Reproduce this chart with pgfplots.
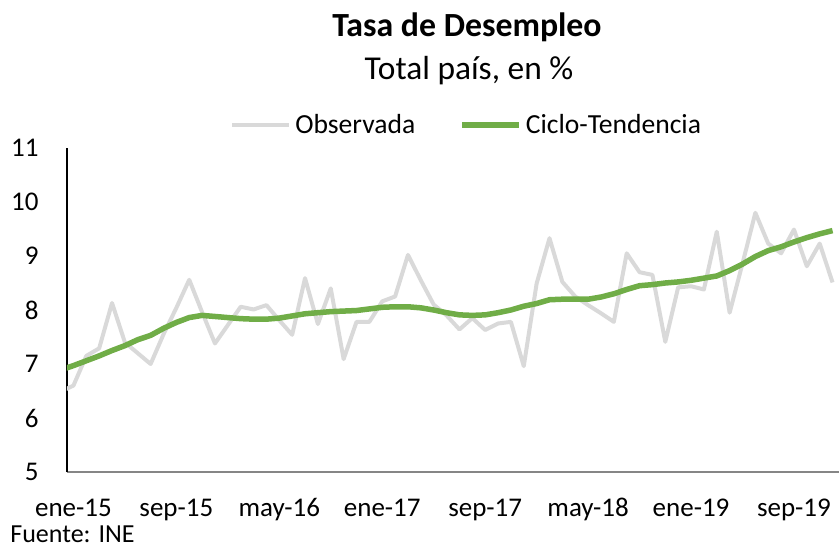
\documentclass[border=0pt]{standalone}
\usepackage{fontspec}
\setmainfont{Carlito}
\usepackage{pgfplots}
\pgfplotsset{compat=1.18}
\definecolor{obsgray}{HTML}{D9D9D9}
\definecolor{tendgreen}{HTML}{70AD47}
\definecolor{axgray}{HTML}{868686}
\begin{document}
\begin{tikzpicture}
\useasboundingbox (-33.5bp,-38bp) rectangle (386bp,236bp);
\begin{axis}[
  scale only axis, width=386bp, height=162bp,
  xmin=-0.5, xmax=59.5, ymin=5, ymax=11,
  ytick={5,...,11},
  xtick={0,8,...,56},
  xticklabels={ene-15,sep-15,may-16,ene-17,sep-17,may-18,ene-19,sep-19},
  axis x line*=bottom, axis y line*=left,
  x axis line style={axgray, line width=0.75bp, -},
  y axis line style={black, line width=0.75bp, -},
  major tick length=0pt,
  tick style={draw=none},
  /pgf/number format/assume math mode=true,
  ticklabel style={font=\fontsize{13.5bp}{16bp}\selectfont, inner sep=0pt},
  yticklabel style={anchor=east, xshift=-14bp},
  xticklabel style={anchor=base, yshift=-22bp},
  clip=true,
  legend style={at={(0.519,1.071)}, anchor=center, draw=none, fill=none, legend columns=2,
    font=\fontsize{13.8bp}{16bp}\selectfont,
    /tikz/every even column/.append style={column sep=20bp}},
  legend image code/.code={\draw[#1] (0bp,0bp) -- (28.5bp,0bp);},
]
\addplot[obsgray, line width=2bp, line join=round] coordinates {
(-1,6.49) (0,6.60) (1,7.15) (2,7.29) (3,8.13) (4,7.40) (5,7.20) (6,7.00) (7,7.55) (8,8.04) (9,8.56)
(10,7.96) (11,7.38) (12,7.72) (13,8.06) (14,8.01) (15,8.09) (16,7.81) (17,7.54) (18,8.59) (19,7.74)
(20,8.40) (21,7.09) (22,7.78) (23,7.78) (24,8.16) (25,8.25) (26,9.02) (27,8.55) (28,8.10) (29,7.90)
(30,7.64) (31,7.85) (32,7.63) (33,7.75) (34,7.78) (35,6.96) (36,8.49) (37,9.33) (38,8.52) (39,8.25)
(40,8.09) (41,7.94) (42,7.78) (43,9.05) (44,8.70) (45,8.65) (46,7.41) (47,8.42) (48,8.44) (49,8.38)
(50,9.45) (51,7.95) (52,8.86) (53,9.80) (54,9.23) (55,9.05) (56,9.49) (57,8.81) (58,9.23) (59,8.51)
};
\addlegendentry{Observada}
\addplot[tendgreen, line width=2.75bp, line join=round] coordinates {
(-1,6.89) (0,6.97) (1,7.06) (2,7.15) (3,7.25) (4,7.34) (5,7.45) (6,7.53) (7,7.66) (8,7.77) (9,7.86)
(10,7.90) (11,7.88) (12,7.86) (13,7.84) (14,7.83) (15,7.83) (16,7.85) (17,7.89) (18,7.93) (19,7.95)
(20,7.97) (21,7.98) (22,7.99) (23,8.02) (24,8.05) (25,8.06) (26,8.06) (27,8.04) (28,8.00) (29,7.95)
(30,7.91) (31,7.90) (32,7.91) (33,7.95) (34,8.00) (35,8.07) (36,8.12) (37,8.19) (38,8.20) (39,8.20)
(40,8.20) (41,8.24) (42,8.30) (43,8.38) (44,8.45) (45,8.47) (46,8.50) (47,8.52) (48,8.55) (49,8.59)
(50,8.63) (51,8.73) (52,8.85) (53,8.99) (54,9.10) (55,9.17) (56,9.26) (57,9.34) (58,9.41) (59,9.47)
};
\addlegendentry{Ciclo-Tendencia}
\end{axis}
\node[font=\bfseries\fontsize{16.9bp}{19bp}\selectfont, anchor=base] at (200bp,217.5bp) {Tasa de Desempleo};
\node[font=\fontsize{16.7bp}{19bp}\selectfont, anchor=base] at (201bp,196bp) {Total país, en \%};
\node[font=\fontsize{13bp}{15bp}\selectfont, anchor=base west, inner sep=0pt] at (-28.5bp,-35bp) {Fuente: INE};
\end{tikzpicture}
\end{document}
